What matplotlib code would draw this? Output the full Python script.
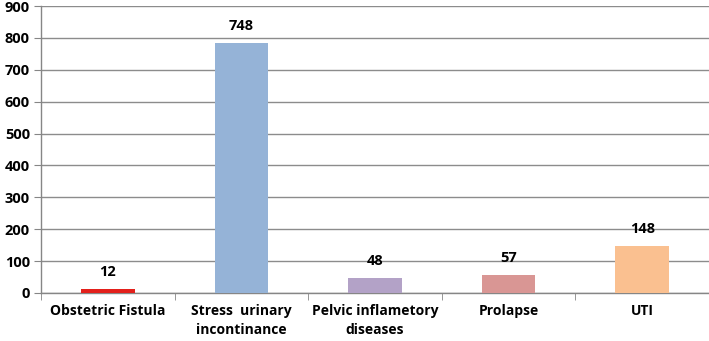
import matplotlib
matplotlib.use("Agg")
import matplotlib.pyplot as plt
import numpy as np

plt.rcParams['font.family'] = ['Open Sans', 'DejaVu Sans']
plt.rcParams['font.weight'] = 'bold'

categories = ["Obstetric Fistula", "Stress  urinary\nincontinance",
              "Pelvic inflametory\ndiseases", "Prolapse", "UTI"]
# bar heights as drawn in the picture, and the labels printed above them
bar_heights = [12, 785, 48, 58, 148]
bar_labels = ["12", "748", "48", "57", "148"]
colors = ["#e3201b", "#95b3d7", "#b3a2c7", "#d99694", "#fac090"]
yticks = np.arange(0, 1000, 100)

fig = plt.figure(figsize=(7.09, 3.41), dpi=100)
ax = fig.add_axes([41 / 709, 1 - 293 / 341, 1 - 41 / 709, 287 / 341])

x = np.arange(len(categories))
ax.bar(x, bar_heights, width=0.4, color=colors, zorder=3)

fs = 10
for xi, h, lab in zip(x, bar_heights, bar_labels):
    ax.annotate(lab, (xi, h), xytext=(0, 17), textcoords="offset pixels",
                ha="center", va="center", fontsize=10.5, fontweight="bold",
                zorder=4)

ax.set_xlim(-0.5, len(categories) - 0.5)
ax.set_ylim(0, 900)
ax.set_yticks(yticks)
ax.set_yticklabels([str(v) for v in yticks], fontsize=10.5, fontweight="bold")
ax.set_xticks(x)
ax.set_xticklabels(categories, fontsize=fs, fontweight="bold", linespacing=1.4)
ax.set_xticks(np.arange(-0.5, len(categories), 1), minor=True)
ax.tick_params(axis="x", which="major", length=0, pad=8)
ax.tick_params(axis="x", which="minor", length=5, color="#868686", direction="out")
ax.tick_params(axis="y", length=5, color="#868686", direction="out", pad=3)

ax.grid(axis="y", color="#8c8c8c", linewidth=1.0, zorder=0)
for s in ["top", "right"]:
    ax.spines[s].set_visible(False)
for s in ["left", "bottom"]:
    ax.spines[s].set_color("#868686")
    ax.spines[s].set_linewidth(1.0)

plt.savefig("out.png", dpi=100)
